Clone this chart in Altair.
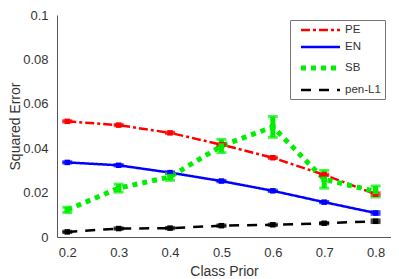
import altair as alt
import pandas as pd

priors = [0.2, 0.3, 0.4, 0.5, 0.6, 0.7, 0.8]
methods = ["PE", "EN", "SB", "pen-L1"]
pe = [0.0521, 0.0504, 0.0469, 0.0416, 0.0357, 0.0280, 0.0193]
en = [0.0336, 0.0323, 0.0290, 0.0252, 0.0208, 0.0157, 0.0108]
sb = [0.0122, 0.0220, 0.0271, 0.0410, 0.0496, 0.0260, 0.0205]
pen = [0.0023, 0.0038, 0.0040, 0.0051, 0.0055, 0.0062, 0.0071]
sb_err = [0.0012, 0.0018, 0.0016, 0.0030, 0.0047, 0.0040, 0.0025]
small_err = [0.0003, 0.0003, 0.0003, 0.0003, 0.0003, 0.0003, 0.0006]

rows = []
for m, vals in zip(methods, [pe, en, sb, pen]):
    for i, (x, v) in enumerate(zip(priors, vals)):
        e = sb_err[i] if m == "SB" else small_err[i]
        rows.append({"prior": x, "err": v, "method": m, "lo": v - e, "hi": v + e})
df = pd.DataFrame(rows)

colors = ["#ff0000", "#0000ff", "#00ee00", "#000000"]
dashes = [[9, 3, 3, 3], [1, 0], [5, 5], [10, 8]]
widths = [2.5, 2.5, 5, 2.5]

FONT = "Liberation Sans"
xscale = alt.Scale(domain=[0.18, 0.83], nice=False, zero=False)
yscale = alt.Scale(domain=[0, 0.1], nice=False)

x = alt.X("prior:Q", scale=xscale,
          axis=alt.Axis(values=priors, format=".1f", title="Class Prior", grid=False,
                        ticks=False, labelPadding=9, titlePadding=5,
                        domainColor="#555555", labelColor="#333333", titleColor="#333333",
                        labelFontSize=13, titleFontSize=14, labelFont=FONT, titleFont=FONT,
                        titleFontWeight="normal"))
y = alt.Y("err:Q", scale=yscale,
          axis=alt.Axis(values=[0, 0.02, 0.04, 0.06, 0.08, 0.1], title="Squared Error",
                        labelExpr="datum.value == 0 ? '0' : (datum.value == 0.1 ? '0.1' : format(datum.value, '.2f'))",
                        grid=False, ticks=False, labelPadding=9, titlePadding=0,
                        domainColor="#555555", labelColor="#333333", titleColor="#333333",
                        labelFontSize=13, titleFontSize=14, labelFont=FONT, titleFont=FONT,
                        titleFontWeight="normal"))

color = alt.Color("method:N", sort=methods, scale=alt.Scale(domain=methods, range=colors),
                  legend=alt.Legend(title=None, orient="none", legendX=233, legendY=5,
                                    symbolType="M0,0L7.8,0", symbolSize=100,
                                    labelFont=FONT, labelFontSize=11.5, labelColor="#333333",
                                    labelExpr="datum.label + '   '",
                                    strokeColor="#777777", fillColor="white",
                                    padding=3.5, rowPadding=5, labelOffset=36.5, labelLimit=100))
sdash = alt.StrokeDash("method:N", sort=methods, scale=alt.Scale(domain=methods, range=dashes), legend=None)
swidth = alt.StrokeWidth("method:N", sort=methods,
                         scale=alt.Scale(type="ordinal", domain=methods, range=widths), legend=None)

cplain = alt.Color("method:N", scale=alt.Scale(domain=methods, range=colors), legend=None)

base = alt.Chart(df)
lines = base.mark_line().encode(x=x, y=y, color=color, strokeDash=sdash, strokeWidth=swidth,
                                order="prior:Q")
bars = base.mark_rule(strokeWidth=5).encode(x="prior:Q", y="lo:Q", y2="hi:Q", color=cplain)
caps_lo = base.mark_tick(thickness=3, size=10, orient="horizontal").encode(
    x="prior:Q", y="lo:Q", color=cplain)
caps_hi = base.mark_tick(thickness=3, size=10, orient="horizontal").encode(
    x="prior:Q", y="hi:Q", color=cplain)
pts = base.mark_square(size=30, opacity=1).encode(x="prior:Q", y="err:Q", color=cplain)

chart = alt.layer(lines, bars, caps_lo, caps_hi, pts).properties(
    width=334, height=222,
    autosize=alt.AutoSizeParams(type="none"),
    padding={"left": 49, "top": 7, "right": 0, "bottom": 42},
).configure_view(stroke=None).configure_axis(domainWidth=1)

chart.save("out.html", embed_options={"renderer": "svg", "actions": False})
